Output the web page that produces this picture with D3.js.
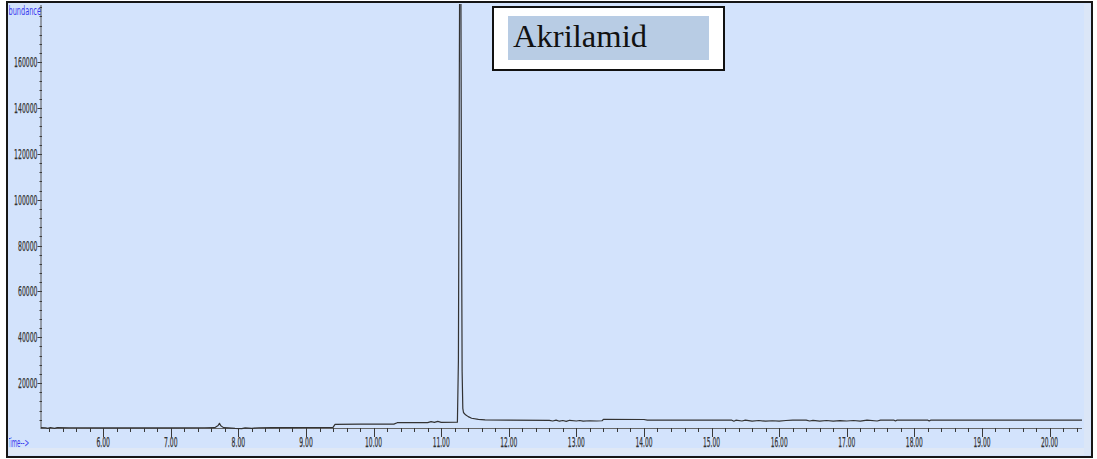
<!DOCTYPE html>
<html><head><meta charset="utf-8">
<script src="https://cdn.jsdelivr.net/npm/d3@7/dist/d3.min.js"></script>
<style>html,body{margin:0;padding:0;background:#fff;}svg{display:block;}</style>
</head><body>
<script>
// ---- data ----
const times = [5.08,5.15,5.18,5.22,5.28,5.32,5.5,6.0,6.5,7.0,7.5,7.65,7.70,7.72,7.74,7.78,7.85,7.95,8.05,8.1,8.2,8.3,8.5,9.0,9.4,9.43,9.8,10.3,10.35,10.8,10.85,10.9,10.95,11.0,11.24,11.255,11.265,11.275,11.29,11.30,11.31,11.32,11.33,11.36,11.40,11.45,11.55,11.65,12.0,12.6,12.65,12.7,12.75,12.8,12.85,12.9,13.0,13.05,13.1,13.2,13.3,13.38,13.4,14.0,14.05,15.0,15.3,15.33,15.36,15.45,15.5,15.6,15.7,15.8,15.9,16.0,16.1,16.2,16.4,16.45,16.5,16.6,16.7,16.8,16.9,17.0,17.1,17.2,17.3,17.45,17.5,17.7,17.72,17.74,18.2,18.22,18.24,20.48];
const abundance = [600,550,300,650,300,600,550,520,500,520,540,560,1500,2500,1400,600,500,250,200,500,300,550,600,650,700,2000,2100,2150,2750,2800,3200,2900,3300,2900,3000,30000,120000,215000,215000,100000,25000,9000,7200,6200,5400,4700,4200,3950,3850,3800,3500,3900,3400,3700,3300,3800,3500,3700,3400,3600,3500,3600,4200,4150,3850,3850,3850,3400,3850,3500,3850,3400,3700,3400,3600,3450,3700,3850,3850,3500,3750,3450,3700,3400,3650,3500,3700,3450,3850,3500,3850,3850,3500,3850,3850,3500,3850,3850];
const yTicks = [20000,40000,60000,80000,100000,120000,140000,160000];
const xTicks = [6,7,8,9,10,11,12,13,14,15,16,17,18,19,20];
const xTickLabels = ["6.00","7.00","8.00","9.00","10.00","11.00","12.00","13.00","14.00","15.00","16.00","17.00","18.00","19.00","20.00"];
const yLabel = "Abundance";
const xLabel = "Time-->";
const boxLabel = "Akrilamid";

const W = 1097, H = 459;
const svg = d3.select("body").append("svg").attr("width", W).attr("height", H);

// frame background
svg.append("rect").attr("x",7).attr("y",2).attr("width",1085).attr("height",455).attr("fill","#d3e3fc");
svg.append("rect").attr("x",9).attr("y",448).attr("width",1081).attr("height",7).attr("fill","#dfe8f6");
svg.append("rect").attr("x",1084).attr("y",4).attr("width",6).attr("height",451).attr("fill","#dbe6f7");

const x = d3.scaleLinear().domain([5.08, 20.48]).range([41, 1082]);
const y = d3.scaleLinear().domain([0, 185000]).range([429, 5]);

svg.append("defs").append("clipPath").attr("id","plotclip")
  .append("rect").attr("x",41).attr("y",4).attr("width",1043).attr("height",427);
svg.select("defs").append("clipPath").attr("id","frameclip")
  .append("rect").attr("x",9).attr("y",4).attr("width",1081).attr("height",451);

const axisColor = "#3a3a3a";
const lblColor = "#333";
const lblFont = "'Liberation Sans Narrow','DejaVu Sans Condensed',Arial,sans-serif";

// y axis
const yAxis = svg.append("g");
yAxis.append("line").attr("x1",41).attr("x2",41).attr("y1",y(185000)).attr("y2",y(0)).attr("stroke","#555").attr("stroke-width",1);
const yMinor = d3.range(4000, 185000, 4000);
yAxis.selectAll("line.ymin").data(yMinor).join("line").attr("class","ymin")
  .attr("x1",39.5).attr("x2",42).attr("y1",d=>Math.round(y(d))+0.5).attr("y2",d=>Math.round(y(d))+0.5)
  .attr("stroke",axisColor).attr("stroke-width",1);
yAxis.selectAll("line.ymaj").data(yTicks).join("line").attr("class","ymaj")
  .attr("x1",37.5).attr("x2",42).attr("y1",d=>Math.round(y(d))+0.5).attr("y2",d=>Math.round(y(d))+0.5)
  .attr("stroke",axisColor).attr("stroke-width",1);
yAxis.selectAll("text").data(yTicks).join("text")
  .attr("x",37.5).attr("y",d=>y(d)+5)
  .attr("text-anchor","end")
  .attr("font-family",lblFont)
  .attr("font-size",14).attr("fill",lblColor).attr("stroke",lblColor).attr("stroke-width",0.25)
  .attr("textLength",d=>String(d).length*3.9).attr("lengthAdjust","spacingAndGlyphs")
  .text(d=>d);

// x axis
const xAxis = svg.append("g");
xAxis.append("line").attr("x1",41).attr("x2",1082).attr("y1",428.5).attr("y2",428.5).attr("stroke","#666").attr("stroke-width",1.2);
const xMinor = d3.range(5.2, 20.5, 0.2);
xAxis.selectAll("line.xmin").data(xMinor).join("line").attr("class","xmin")
  .attr("x1",d=>Math.round(x(d))+0.5).attr("x2",d=>Math.round(x(d))+0.5).attr("y1",428).attr("y2",432)
  .attr("stroke",axisColor).attr("stroke-width",1);
xAxis.selectAll("line.xmaj").data(xTicks).join("line").attr("class","xmaj")
  .attr("x1",d=>Math.round(x(d))+0.5).attr("x2",d=>Math.round(x(d))+0.5).attr("y1",428).attr("y2",437)
  .attr("stroke",axisColor).attr("stroke-width",1);
xAxis.selectAll("text").data(xTicks).join("text")
  .attr("x",d=>x(d)).attr("y",447)
  .attr("text-anchor","middle")
  .attr("font-family",lblFont)
  .attr("font-size",14).attr("fill",lblColor).attr("stroke",lblColor).attr("stroke-width",0.25)
  .attr("textLength",(d,i)=>xTickLabels[i].length*3.4).attr("lengthAdjust","spacingAndGlyphs")
  .text((d,i)=>xTickLabels[i]);

// axis titles (blue)
const titles = svg.append("g").attr("clip-path","url(#frameclip)");
titles.append("text").attr("x",4).attr("y",15)
  .attr("font-family",lblFont)
  .attr("font-size",13).attr("fill","#3a3aee")
  .attr("textLength",37).attr("lengthAdjust","spacingAndGlyphs").text(yLabel);
titles.append("text").attr("x",7).attr("y",447)
  .attr("font-family",lblFont)
  .attr("font-size",13).attr("fill","#3a3aee")
  .attr("textLength",22).attr("lengthAdjust","spacingAndGlyphs").text(xLabel);

// trace
const pts = times.map((t,i)=>[t, abundance[i]]);
const line = d3.line().x(d=>x(d[0])).y(d=>y(d[1]));
svg.append("path").datum(pts).attr("clip-path","url(#plotclip)")
  .attr("d",line).attr("fill","none").attr("stroke","#333").attr("stroke-width",1.2)
  .attr("stroke-linejoin","round");

// label box
svg.append("rect").attr("x",493).attr("y",7).attr("width",231).attr("height",63)
  .attr("fill","#fff").attr("stroke","#111").attr("stroke-width",2);
svg.append("rect").attr("x",508).attr("y",16).attr("width",201).attr("height",44).attr("fill","#b8cce4");
svg.append("text").attr("x",513).attr("y",47)
  .attr("font-family","'Liberation Serif','DejaVu Serif',serif").attr("font-size",32).attr("fill","#111")
  .attr("textLength",134).attr("lengthAdjust","spacingAndGlyphs").text(boxLabel);

// outer frame border
svg.append("rect").attr("x",7).attr("y",2).attr("width",1085).attr("height",455)
  .attr("fill","none").attr("stroke","#161616").attr("stroke-width",2);
</script>
</body></html>
